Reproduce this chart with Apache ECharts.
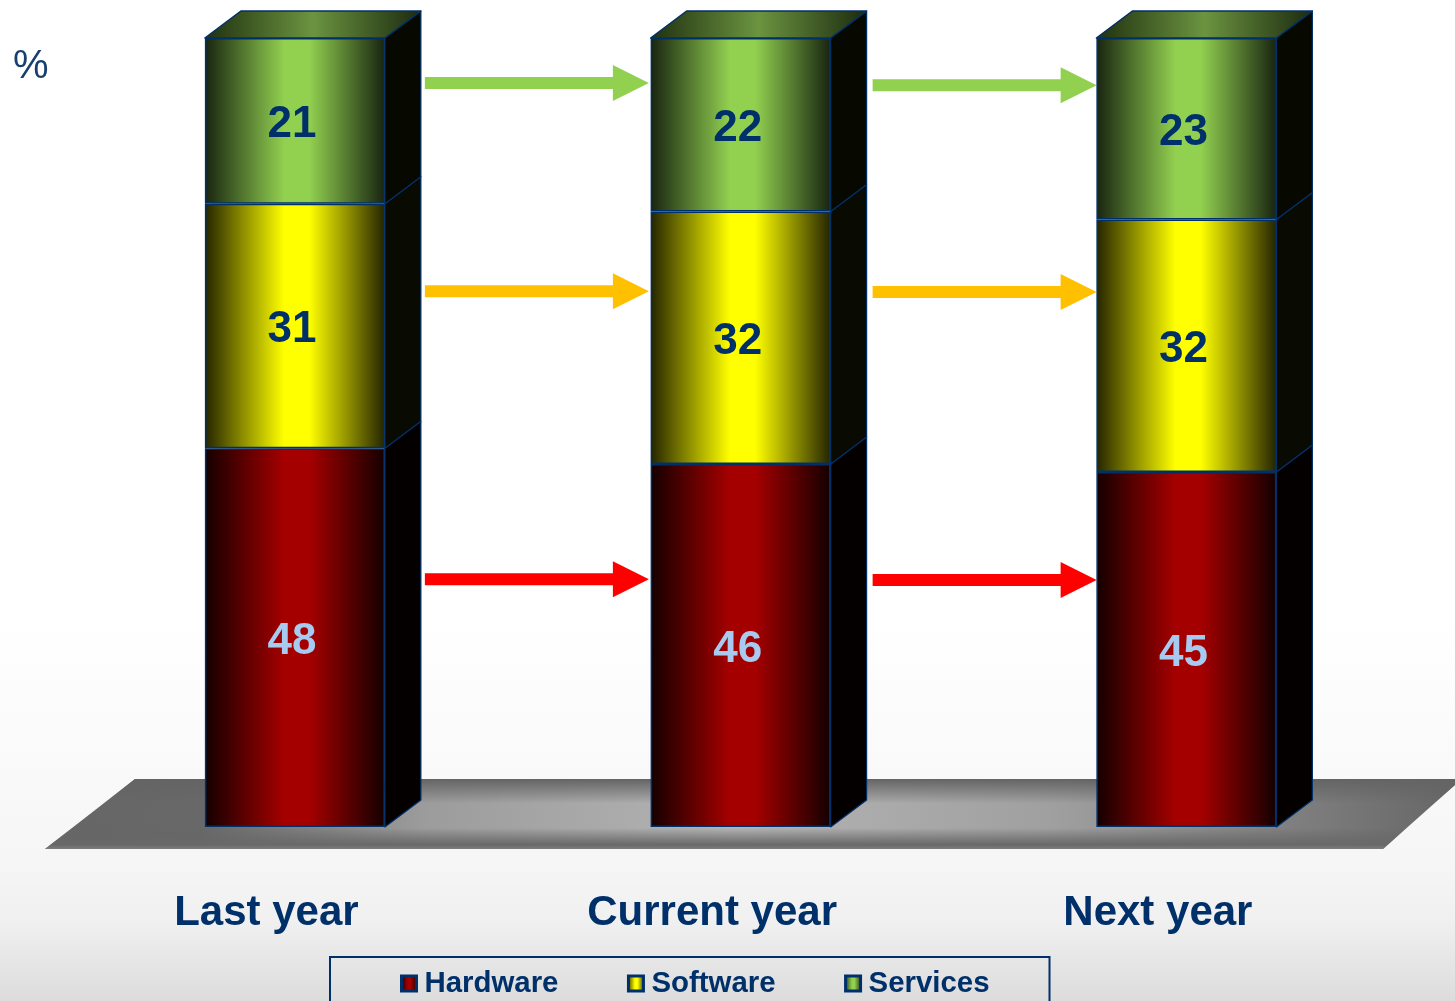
<!DOCTYPE html>
<html><head><meta charset="utf-8">
<style>html,body{margin:0;padding:0;background:#fff;overflow:hidden}#c{width:1455px;height:1001px}</style>
<script src="https://cdn.jsdelivr.net/npm/echarts@6/dist/echarts.min.js"></script>
</head><body><div id="c"></div>
<script>
const categories = ['Last year', 'Current year', 'Next year'];
const hardware = [48, 46, 45];
const software = [31, 32, 32];
const services = [21, 22, 23];
// arrows: [gap index, level on the % scale]
const arrowsServices = [[0, 94.3], [1, 94.0]];
const arrowsSoftware = [[0, 67.9], [1, 67.8]];
const arrowsHardware = [[0, 31.4], [1, 31.3]];

const NAVY = '#00306a';
const DX = 36, DY = -27;
const hgrad = (edge, mid, edge2) => ({
  type: 'linear', x: 0, y: 0, x2: 1, y2: 0,
  colorStops: [
    {offset: 0, color: edge}, {offset: 0.44, color: mid}, {offset: 0.58, color: mid}, {offset: 1, color: edge2 || edge}
  ]
});
const fills = {
  Hardware: hgrad('#140000', '#a50000', '#140000'),
  Software: hgrad('#242400', '#ffff00', '#242400'),
  Services: hgrad('#182410', '#92d050', '#182410')
};
const barSeries = (name, data, labelColor) => ({
  name, type: 'bar', stack: 'all', data, barWidth: 180, z: 3,
  itemStyle: {color: fills[name], borderColor: NAVY, borderWidth: 1.5},
  label: {show: true, position: 'inside', offset: [-3, 4], color: labelColor,
    fontFamily: 'Liberation Sans', fontWeight: 'bold', fontSize: 44},
  emphasis: {disabled: true}
});

const segs = [];
categories.forEach((c, i) => {
  const a = hardware[i], b = a + software[i], t = b + services[i];
  segs.push([i, 0, a, '#050000'], [i, a, b, '#090a02'], [i, b, t, '#070800']);
});
const sideSeries = {
  name: 'depth', type: 'custom', z: 2, silent: true, data: segs,
  renderItem(params, api) {
    const lo = api.coord([api.value(0), api.value(1)]);
    const hi = api.coord([api.value(0), api.value(2)]);
    const x = lo[0] + 90;
    return {type: 'polygon',
      shape: {points: [[x, lo[1]], [x + DX, lo[1] + DY], [x + DX, hi[1] + DY], [x, hi[1]]]},
      style: {fill: segs[params.dataIndex][3], stroke: NAVY, lineWidth: 1.2, lineJoin: 'round'}};
  }
};
const topSeries = {
  name: 'top', type: 'custom', z: 2, silent: true,
  data: categories.map((c, i) => [i, hardware[i] + software[i] + services[i]]),
  renderItem(params, api) {
    const p = api.coord([api.value(0), api.value(1)]);
    const l = p[0] - 90, r = p[0] + 90, y = p[1];
    return {type: 'polygon',
      shape: {points: [[l, y], [l + DX, y + DY], [r + DX, y + DY], [r, y]]},
      style: {fill: {type: 'linear', x: 0, y: 0, x2: 1, y2: 0, colorStops: [
        {offset: 0, color: '#20300f'}, {offset: 0.5, color: '#6b9440'}, {offset: 1, color: '#1c2a10'}]},
        stroke: NAVY, lineWidth: 1.5, lineJoin: 'round'}};
  }
};
const arrowSeries = (name, data, color) => ({
  name, type: 'custom', z: 5, silent: true, data,
  renderItem(params, api) {
    const p = api.coord([api.value(0), api.value(1)]);
    const x0 = p[0] + 130 + 2 * api.value(0), x1 = x0 + 224, y = p[1];
    return {type: 'polygon',
      shape: {points: [[x0, y - 6], [x1 - 36, y - 6], [x1 - 36, y - 18], [x1, y], [x1 - 36, y + 18], [x1 - 36, y + 6], [x0, y + 6]]},
      style: {fill: color}};
  }
});

const floorPts = [[45, 849], [135, 779], [1455, 779], [1455, 785], [1383, 849]];
const chart = echarts.init(document.getElementById('c'), null, {renderer: 'canvas'});
chart.setOption({
  animation: false,
  backgroundColor: {type: 'linear', x: 0, y: 0, x2: 0, y2: 1, colorStops: [
    {offset: 0, color: '#ffffff'}, {offset: 0.62, color: '#ffffff'}, {offset: 0.86, color: '#f6f6f6'}, {offset: 0.92, color: '#f0f0f0'}, {offset: 1, color: '#dcdcdc'}]},
  title: {text: '%', left: 8, top: 42, textStyle: {fontFamily: 'Liberation Sans', fontWeight: 'normal', fontSize: 40, color: '#17406f'}},
  grid: {left: 72, width: 1337.25, top: 38, height: 789, containLabel: false},
  xAxis: {type: 'category', data: categories, axisLine: {show: false}, axisTick: {show: false},
    axisLabel: {margin: 65, padding: [0, 57, 0, 0], color: NAVY, fontFamily: 'Liberation Sans', fontWeight: 'bold', fontSize: 42, interval: 0}},
  yAxis: {type: 'value', min: 0, max: 100, show: false, splitLine: {show: false}},
  legend: {data: ['Hardware', 'Software', 'Services'], left: 330, top: 957, orient: 'horizontal',
    padding: [12, 60, 14, 70], itemGap: 68.5, itemWidth: 15, itemHeight: 15, icon: 'rect', selectedMode: false,
    borderColor: NAVY, borderWidth: 2,
    itemStyle: {borderColor: NAVY, borderWidth: 3},
    textStyle: {color: NAVY, fontFamily: 'Liberation Sans', fontWeight: 'bold', fontSize: 29.4, padding: [0, 0, 0, 3]}},
  graphic: {elements: [
    {type: 'polygon', z: 0, silent: true, shape: {points: floorPts}, style: {fill: {type: 'linear', x: 0, y: 0, x2: 1, y2: 0, colorStops: [
      {offset: 0, color: '#666666'}, {offset: 0.11, color: '#686868'}, {offset: 0.27, color: '#9c9c9c'}, {offset: 0.49, color: '#b4b4b4'}, {offset: 0.71, color: '#a0a0a0'}, {offset: 0.9, color: '#7c7c7c'}, {offset: 1, color: '#666666'}]}}},
    {type: 'polygon', z: 0, silent: true, shape: {points: floorPts}, style: {fill: {type: 'linear', x: 0, y: 0, x2: 0, y2: 1, colorStops: [
      {offset: 0, color: 'rgba(100,100,100,1)'}, {offset: 0.35, color: 'rgba(100,100,100,0)'}, {offset: 0.7, color: 'rgba(100,100,100,0)'}, {offset: 0.94, color: 'rgba(105,105,105,1)'}, {offset: 1, color: 'rgba(125,125,125,1)'}]}}}
  ]},
  series: [
    sideSeries, topSeries,
    barSeries('Hardware', hardware, '#a6caf0'),
    barSeries('Software', software, NAVY),
    barSeries('Services', services, NAVY),
    arrowSeries('arrowServices', arrowsServices, '#92d050'),
    arrowSeries('arrowSoftware', arrowsSoftware, '#ffc000'),
    arrowSeries('arrowHardware', arrowsHardware, '#ff0000')
  ]
});
</script></body></html>
